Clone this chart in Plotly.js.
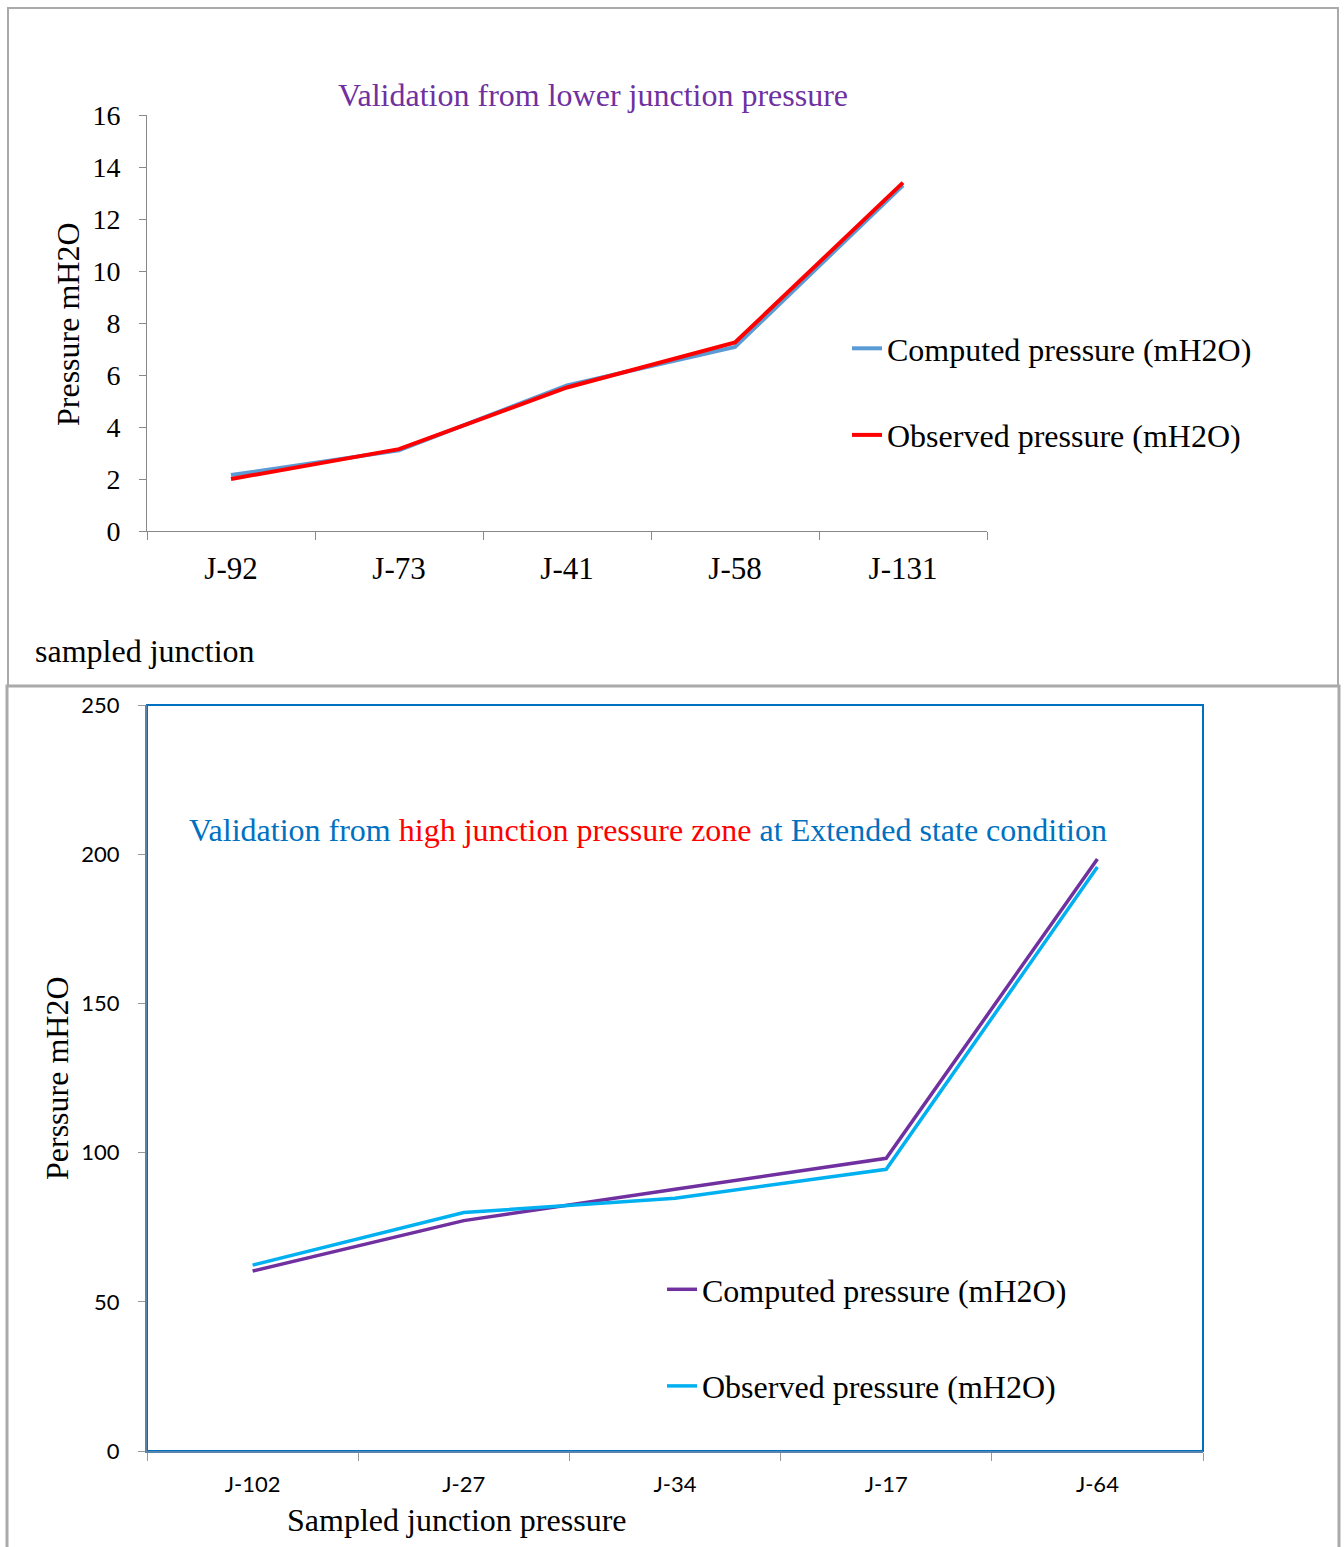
<!DOCTYPE html>
<html>
<head>
<meta charset="utf-8">
<script src="https://cdn.plot.ly/plotly-3.0.1.min.js"></script>
<style>
html,body{margin:0;padding:0;background:#fff;}
#chart{width:1344px;height:1547px;}
</style>
</head>
<body>
<div id="chart"></div>
<script>
// ---- data ----
const topCategories = ['J-92', 'J-73', 'J-41', 'J-58', 'J-131'];
const topComputed = [2.15, 3.1, 5.6, 7.08, 13.3];
const topObserved = [2.0, 3.15, 5.52, 7.25, 13.4];

const bottomCategories = ['J-102', 'J-27', 'J-34', 'J-17', 'J-64'];
const bottomComputed = [60.3, 77.2, 87.7, 98.1, 198.4];
const bottomObserved = [62.3, 79.9, 84.7, 94.4, 195.7];

const topYTicks = [0, 2, 4, 6, 8, 10, 12, 14, 16];
const bottomYTicks = [0, 50, 100, 150, 200, 250];

// ---- layout helpers ----
const W = 1344, H = 1547;
const px = x => x / W;
const py = y => 1 - y / H;
const SERIF = '"Liberation Serif", "Times New Roman", serif';
const SANS = 'Lato, "Liberation Sans", sans-serif';

const traces = [
  {x: topCategories, y: topComputed, type: 'scatter', mode: 'lines', name: 'Computed pressure (mH2O)',
   line: {color: '#5b9bd5', width: 4}, xaxis: 'x', yaxis: 'y', legend: 'legend', legendgroup: 'a'},
  {x: topCategories, y: topObserved, type: 'scatter', mode: 'lines', name: 'Observed pressure (mH2O)',
   line: {color: '#ff0000', width: 4}, xaxis: 'x', yaxis: 'y', legend: 'legend', legendgroup: 'b'},
  {x: bottomCategories, y: bottomComputed, type: 'scatter', mode: 'lines', name: 'Computed pressure (mH2O)',
   line: {color: '#7030a0', width: 3.5}, xaxis: 'x2', yaxis: 'y2', legend: 'legend2', legendgroup: 'c'},
  {x: bottomCategories, y: bottomObserved, type: 'scatter', mode: 'lines', name: 'Observed pressure (mH2O)',
   line: {color: '#00b0f0', width: 3.5}, xaxis: 'x2', yaxis: 'y2', legend: 'legend2', legendgroup: 'd'}
];

const layout = {
  width: W, height: H,
  margin: {l: 0, r: 0, t: 0, b: 0},
  paper_bgcolor: '#ffffff', plot_bgcolor: 'rgba(0,0,0,0)',
  showlegend: true,
  title: {
    text: 'Validation from lower junction pressure',
    font: {family: SERIF, size: 32, color: '#7030a0'},
    x: px(593), y: py(95), xanchor: 'center', yanchor: 'middle', xref: 'paper', yref: 'paper'
  },
  xaxis: {
    domain: [px(147), px(987)], anchor: 'y', type: 'category', range: [-0.5, 4.5],
    tickson: 'boundaries', ticks: 'outside', ticklen: 8, tickcolor: '#888', tickwidth: 1,
    showline: true, linecolor: '#888', linewidth: 1, showgrid: false, zeroline: false,
    tickfont: {family: SERIF, size: 31, color: '#000'}, ticklabelstandoff: 10, fixedrange: true
  },
  yaxis: {
    domain: [py(531), py(115)], anchor: 'x', range: [0, 16], tickvals: topYTicks,
    ticks: 'outside', ticklen: 7, tickcolor: '#888', tickwidth: 1,
    showline: true, linecolor: '#888', linewidth: 1, showgrid: false, zeroline: false,
    tickfont: {family: SERIF, size: 28, color: '#000'}, ticklabelstandoff: 13, fixedrange: true
  },
  xaxis2: {
    domain: [px(147), px(1203)], anchor: 'y2', type: 'category', range: [-0.5, 4.5],
    tickson: 'boundaries', ticks: 'outside', ticklen: 8, tickcolor: '#999', tickwidth: 1,
    showline: true, linecolor: '#5b84ad', linewidth: 2, showgrid: false, zeroline: false,
    tickfont: {family: SANS, size: 22, color: '#000'}, ticklabelstandoff: 13, fixedrange: true
  },
  yaxis2: {
    domain: [py(1451), py(705)], anchor: 'x2', range: [0, 250], tickvals: bottomYTicks,
    ticks: 'outside', ticklen: 7, tickcolor: '#999', tickwidth: 1,
    showline: true, linecolor: '#5b84ad', linewidth: 2, showgrid: false, zeroline: false,
    tickfont: {family: SANS, size: 22, color: '#000'}, ticklabelstandoff: 14, fixedrange: true
  },
  legend: {
    x: px(847), y: py(321), xanchor: 'left', yanchor: 'top',
    bgcolor: 'rgba(0,0,0,0)', borderwidth: 0, tracegroupgap: 42, traceorder: 'grouped',
    font: {family: SERIF, size: 32, color: '#000'}
  },
  legend2: {
    x: px(662), y: py(1262), xanchor: 'left', yanchor: 'top',
    bgcolor: 'rgba(0,0,0,0)', borderwidth: 0, tracegroupgap: 52, traceorder: 'grouped',
    font: {family: SERIF, size: 32, color: '#000'}
  },
  annotations: [
    {text: 'Pressure mH2O', textangle: -90, x: px(68), y: py(324), xref: 'paper', yref: 'paper',
     xanchor: 'center', yanchor: 'middle', showarrow: false, font: {family: SERIF, size: 32, color: '#000'}},
    {text: 'sampled junction', x: px(33), y: py(651), xref: 'paper', yref: 'paper',
     xanchor: 'left', yanchor: 'middle', showarrow: false, font: {family: SERIF, size: 32, color: '#000'}},
    {text: '<span style="color:#0070c0">Validation from </span><span style="color:#ff0000">high junction pressure zone</span><span style="color:#0070c0"> at Extended state condition</span>',
     x: px(648), y: py(830), xref: 'paper', yref: 'paper', xanchor: 'center', yanchor: 'middle',
     showarrow: false, font: {family: SERIF, size: 32, color: '#0070c0'}},
    {text: 'Perssure mH2O', textangle: -90, x: px(57), y: py(1078), xref: 'paper', yref: 'paper',
     xanchor: 'center', yanchor: 'middle', showarrow: false, font: {family: SERIF, size: 32, color: '#000'}},
    {text: 'Sampled junction pressure', x: px(456), y: py(1520), xref: 'paper', yref: 'paper',
     xanchor: 'center', yanchor: 'middle', showarrow: false, font: {family: SERIF, size: 32, color: '#000'}}
  ],
  shapes: [
    {type: 'rect', xref: 'paper', yref: 'paper', x0: px(8), x1: px(1338), y0: py(8), y1: py(686),
     line: {color: '#aaaaaa', width: 2}, layer: 'below'},
    {type: 'rect', xref: 'paper', yref: 'paper', x0: px(7), x1: px(1339), y0: py(686), y1: py(1570),
     line: {color: '#aaaaaa', width: 3}, layer: 'below'},
    {type: 'rect', xref: 'x2 domain', yref: 'y2 domain', x0: 0, x1: 1, y0: 0, y1: 1,
     line: {color: '#0070c0', width: 2}, layer: 'below'}
  ]
};

Plotly.newPlot('chart', traces, layout, {displayModeBar: false, staticPlot: true});
</script>
</body>
</html>
